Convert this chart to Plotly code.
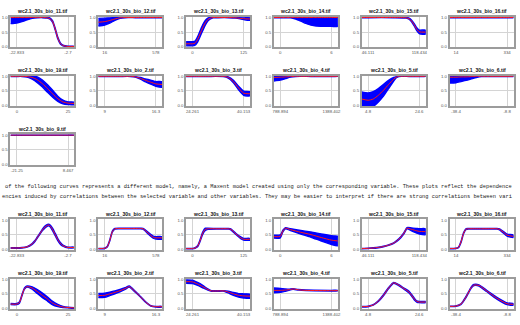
import plotly.graph_objects as go

# ---------------- variables: label, min, max, tick texts ----------------
var_bio11 = ["wc2.1_30s_bio_11.tif", -22.833, -2.7, "-22.833", "-2.7"]
var_bio12 = ["wc2.1_30s_bio_12.tif", 16, 578, "16", "578"]
var_bio13 = ["wc2.1_30s_bio_13.tif", 0, 125, "0", "125"]
var_bio14 = ["wc2.1_30s_bio_14.tif", 0, 6, "0", "6"]
var_bio15 = ["wc2.1_30s_bio_15.tif", 46.111, 118.434, "46.111", "118.434"]
var_bio16 = ["wc2.1_30s_bio_16.tif", 14, 334, "14", "334"]
var_bio19 = ["wc2.1_30s_bio_19.tif", 0, 25, "0", "25"]
var_bio2 = ["wc2.1_30s_bio_2.tif", 9, 16.3, "9", "16.3"]
var_bio3 = ["wc2.1_30s_bio_3.tif", 24.261, 40.153, "24.261", "40.153"]
var_bio4 = ["wc2.1_30s_bio_4.tif", 788.894, 1388.402, "788.894", "1388.402"]
var_bio5 = ["wc2.1_30s_bio_5.tif", 4.8, 24.6, "4.8", "24.6"]
var_bio6 = ["wc2.1_30s_bio_6.tif", -38.4, -8.8, "-38.4", "-8.8"]
var_bio9 = ["wc2.1_30s_bio_9.tif", -21.25, 8.467, "-21.25", "8.467"]

# positions along each variable's range (0 = min, 1 = max), mean response, std dev
# ---- marginal response curves (top) ----
m_bio11_f = [-0.125, 0, 0.1, 0.2, 0.3, 0.4, 0.5, 0.6, 0.65, 0.7, 0.75, 0.8, 0.85, 0.9, 1.0, 1.125]
m_bio11_mean = [1, 1, 1, 1, 1, 1, 1, 0.99, 0.96, 0.86, 0.6, 0.3, 0.11, 0.04, 0.01, 0.01]
m_bio11_sd = [0.21, 0.19, 0.14, 0.08, 0.03, 0.01, 0.005, 0.01, 0.02, 0.03, 0.03, 0.03, 0.02, 0.01, 0.005, 0.005]

m_bio12_f = [-0.125, 0, 0.1, 0.2, 0.3, 0.4, 0.6, 1.0, 1.125]
m_bio12_mean = [0.84, 0.86, 0.9, 0.95, 0.99, 1.0, 1.0, 1.0, 1.0]
m_bio12_sd = [0.13, 0.12, 0.09, 0.05, 0.02, 0.005, 0.005, 0.005, 0.005]

m_bio13_f = [-0.125, 0, 0.05, 0.1, 0.15, 0.2, 0.25, 0.3, 0.35, 0.4, 0.5, 0.7, 0.85, 1.0, 1.125]
m_bio13_mean = [0.1, 0.1, 0.12, 0.25, 0.45, 0.65, 0.82, 0.93, 0.98, 1.0, 1.0, 1.0, 0.99, 0.96, 0.95]
m_bio13_sd = [0.07, 0.07, 0.07, 0.09, 0.1, 0.1, 0.08, 0.05, 0.03, 0.01, 0.005, 0.005, 0.01, 0.03, 0.04]

m_bio14_f = [-0.125, 0, 0.1, 0.2, 0.3, 0.4, 0.5, 0.6, 0.7, 1.0, 1.125]
m_bio14_mean = [1, 1, 1, 1, 1, 1, 1, 1, 1, 1, 1]
m_bio14_sd = [0.005, 0.005, 0.005, 0.01, 0.05, 0.12, 0.2, 0.26, 0.29, 0.3, 0.3]

m_bio15_f = [-0.125, 0, 0.5, 0.75, 0.8, 0.85, 0.9, 0.95, 1.0, 1.125]
m_bio15_mean = [1, 1, 1, 0.99, 0.96, 0.88, 0.75, 0.6, 0.51, 0.5]
m_bio15_sd = [0.005, 0.005, 0.005, 0.01, 0.02, 0.03, 0.04, 0.05, 0.06, 0.07]

m_bio16_f = [-0.125, 0, 0.5, 1.0, 1.125]
m_bio16_mean = [1, 1, 1, 1, 1]
m_bio16_sd = [0.005, 0.005, 0.005, 0.005, 0.005]

m_bio19_f = [-0.125, 0, 0.1, 0.2, 0.3, 0.4, 0.5, 0.6, 0.7, 0.8, 0.9, 1.0, 1.125]
m_bio19_mean = [1, 1, 1, 0.99, 0.96, 0.88, 0.75, 0.58, 0.4, 0.23, 0.12, 0.08, 0.07]
m_bio19_sd = [0.005, 0.005, 0.005, 0.02, 0.06, 0.1, 0.12, 0.13, 0.12, 0.09, 0.06, 0.045, 0.045]

m_bio2_f = [-0.125, 0, 0.3, 0.5, 0.6, 0.7, 0.8, 0.9, 1.0, 1.125]
m_bio2_mean = [1, 1, 1, 1, 0.98, 0.93, 0.86, 0.8, 0.74, 0.72]
m_bio2_sd = [0.005, 0.005, 0.005, 0.005, 0.01, 0.03, 0.05, 0.07, 0.08, 0.09]

m_bio3_f = [-0.125, 0, 0.3, 0.6, 0.7, 0.8, 0.9, 1.0, 1.125]
m_bio3_mean = [1, 1, 1, 1, 0.96, 0.82, 0.6, 0.42, 0.4]
m_bio3_sd = [0.005, 0.005, 0.005, 0.01, 0.02, 0.04, 0.06, 0.07, 0.07]

m_bio4_f = [-0.125, 0, 0.1, 0.2, 0.3, 0.6, 1.125]
m_bio4_mean = [0.96, 0.97, 0.98, 0.99, 1.0, 1.0, 1.0]
m_bio4_sd = [0.12, 0.1, 0.06, 0.02, 0.005, 0.005, 0.005]

m_bio5_f = [-0.125, 0, 0.1, 0.2, 0.3, 0.4, 0.5, 0.55, 0.6, 0.8, 1.125]
m_bio5_mean = [0.22, 0.18, 0.22, 0.35, 0.52, 0.72, 0.9, 0.97, 1.0, 1.0, 1.0]
m_bio5_sd = [0.24, 0.25, 0.25, 0.23, 0.2, 0.14, 0.06, 0.02, 0.005, 0.005, 0.005]

m_bio6_f = [-0.125, 0, 0.1, 0.2, 0.3, 0.4, 0.5, 0.6, 1.125]
m_bio6_mean = [0.97, 0.97, 0.98, 0.98, 0.99, 1.0, 1.0, 1.0, 1.0]
m_bio6_sd = [0.2, 0.19, 0.16, 0.12, 0.08, 0.04, 0.01, 0.005, 0.005]

m_bio9_f = [-0.125, 0, 0.5, 1.0, 1.125]
m_bio9_mean = [1, 1, 1, 1, 1]
m_bio9_sd = [0.005, 0.005, 0.005, 0.005, 0.005]

# ---- single-variable model curves (bottom) ----
s_bio11_f = [-0.125, 0, 0.1, 0.2, 0.3, 0.35, 0.4, 0.45, 0.5, 0.55, 0.6, 0.62, 0.65, 0.7, 0.75, 0.8, 0.85, 0.9, 0.95, 1.0, 1.125]
s_bio11_mean = [0.04, 0.04, 0.05, 0.08, 0.18, 0.27, 0.4, 0.53, 0.66, 0.76, 0.82, 0.83, 0.8, 0.67, 0.5, 0.33, 0.2, 0.12, 0.08, 0.06, 0.06]
s_bio11_sd = [0.01, 0.01, 0.01, 0.01, 0.015, 0.02, 0.02, 0.02, 0.025, 0.03, 0.03, 0.03, 0.03, 0.04, 0.04, 0.035, 0.03, 0.02, 0.015, 0.01, 0.01]

s_bio12_f = [-0.125, 0, 0.05, 0.1, 0.15, 0.2, 0.3, 0.5, 0.7, 0.75, 0.85, 0.95, 1.0, 1.125]
s_bio12_mean = [0.02, 0.03, 0.08, 0.3, 0.6, 0.7, 0.71, 0.71, 0.71, 0.7, 0.55, 0.41, 0.39, 0.39]
s_bio12_sd = [0.005, 0.005, 0.01, 0.02, 0.02, 0.01, 0.01, 0.01, 0.01, 0.015, 0.025, 0.035, 0.04, 0.04]

s_bio13_f = [-0.125, 0, 0.05, 0.1, 0.15, 0.2, 0.25, 0.3, 0.5, 0.7, 0.75, 0.85, 0.95, 1.0, 1.125]
s_bio13_mean = [0.02, 0.02, 0.04, 0.1, 0.3, 0.55, 0.68, 0.7, 0.7, 0.7, 0.68, 0.52, 0.38, 0.34, 0.34]
s_bio13_sd = [0.005, 0.005, 0.01, 0.02, 0.03, 0.04, 0.04, 0.02, 0.01, 0.01, 0.015, 0.02, 0.03, 0.03, 0.03]

s_bio14_f = [-0.125, 0, 0.05, 0.1, 0.2, 0.4, 0.6, 0.8, 1.0, 1.125]
s_bio14_mean = [0.43, 0.44, 0.62, 0.72, 0.67, 0.58, 0.5, 0.4, 0.31, 0.28]
s_bio14_sd = [0.05, 0.05, 0.03, 0.02, 0.03, 0.06, 0.09, 0.12, 0.15, 0.16]

s_bio15_f = [-0.125, 0, 0.1, 0.2, 0.3, 0.4, 0.5, 0.6, 0.7, 0.76, 0.85, 0.95, 1.0, 1.125]
s_bio15_mean = [0.02, 0.03, 0.04, 0.06, 0.09, 0.14, 0.21, 0.34, 0.55, 0.72, 0.68, 0.63, 0.61, 0.6]
s_bio15_sd = [0.005, 0.005, 0.01, 0.01, 0.01, 0.01, 0.01, 0.015, 0.02, 0.02, 0.05, 0.08, 0.09, 0.1]

s_bio16_f = [-0.125, 0, 0.05, 0.1, 0.15, 0.2, 0.25, 0.5, 0.8, 0.85, 0.95, 1.0, 1.125]
s_bio16_mean = [0.02, 0.03, 0.06, 0.25, 0.55, 0.69, 0.7, 0.7, 0.7, 0.68, 0.55, 0.48, 0.44]
s_bio16_sd = [0.005, 0.005, 0.01, 0.02, 0.02, 0.015, 0.01, 0.01, 0.01, 0.015, 0.03, 0.035, 0.04]

s_bio19_f = [-0.125, 0, 0.05, 0.1, 0.15, 0.2, 0.3, 0.4, 0.5, 0.6, 0.7, 0.8, 0.9, 1.0, 1.125]
s_bio19_mean = [0.15, 0.15, 0.2, 0.45, 0.68, 0.75, 0.7, 0.58, 0.45, 0.32, 0.18, 0.1, 0.05, 0.03, 0.02]
s_bio19_sd = [0.02, 0.02, 0.02, 0.02, 0.02, 0.02, 0.04, 0.07, 0.08, 0.07, 0.06, 0.04, 0.02, 0.01, 0.01]

s_bio2_f = [-0.125, 0, 0.1, 0.2, 0.3, 0.4, 0.48, 0.6, 0.7, 0.8, 0.9, 1.0, 1.125]
s_bio2_mean = [0.44, 0.45, 0.5, 0.55, 0.61, 0.68, 0.75, 0.57, 0.4, 0.22, 0.09, 0.06, 0.06]
s_bio2_sd = [0.07, 0.07, 0.06, 0.05, 0.04, 0.03, 0.02, 0.015, 0.01, 0.01, 0.01, 0.01, 0.01]

s_bio3_f = [-0.125, 0, 0.1, 0.2, 0.3, 0.37, 0.5, 0.62, 0.7, 0.8, 0.9, 1.0, 1.125]
s_bio3_mean = [0.92, 0.91, 0.84, 0.75, 0.65, 0.6, 0.6, 0.6, 0.56, 0.5, 0.45, 0.43, 0.42]
s_bio3_sd = [0.06, 0.06, 0.05, 0.04, 0.02, 0.01, 0.01, 0.01, 0.03, 0.05, 0.06, 0.07, 0.07]

s_bio4_f = [-0.125, 0, 0.1, 0.2, 0.25, 0.35, 0.5, 1.0, 1.125]
s_bio4_mean = [0.62, 0.62, 0.63, 0.65, 0.67, 0.64, 0.62, 0.61, 0.61]
s_bio4_sd = [0.08, 0.07, 0.04, 0.015, 0.01, 0.01, 0.01, 0.01, 0.01]

s_bio5_f = [-0.125, 0, 0.1, 0.2, 0.3, 0.4, 0.5, 0.6, 0.7, 0.8, 0.85, 0.9, 0.95, 1.0, 1.125]
s_bio5_mean = [0.06, 0.07, 0.12, 0.25, 0.45, 0.7, 0.88, 0.8, 0.68, 0.56, 0.45, 0.33, 0.24, 0.22, 0.22]
s_bio5_sd = [0.01, 0.01, 0.01, 0.015, 0.02, 0.02, 0.015, 0.015, 0.02, 0.03, 0.03, 0.03, 0.02, 0.02, 0.02]

s_bio6_f = [-0.125, 0, 0.1, 0.2, 0.3, 0.35, 0.45, 0.6, 0.8, 1.0, 1.125]
s_bio6_mean = [0.07, 0.08, 0.15, 0.4, 0.72, 0.8, 0.79, 0.6, 0.35, 0.16, 0.14]
s_bio6_sd = [0.005, 0.01, 0.01, 0.02, 0.02, 0.02, 0.02, 0.02, 0.03, 0.03, 0.03]

# paragraph text (visible part of the report page)
para_line1 = ("of the following curves represents a different model, namely, a Maxent model created using only the "
              "corresponding variable. These plots reflect the dependence")
para_line2 = ("encies induced by correlations between the selected variable and other variables. They may be easier to "
              "interpret if there are strong correlations between vari")

# ---------------- layout of panels ----------------
panels = [
    # (variable, f, mean, sd, column, row)
    (var_bio11, m_bio11_f, m_bio11_mean, m_bio11_sd, 0, 0),
    (var_bio12, m_bio12_f, m_bio12_mean, m_bio12_sd, 1, 0),
    (var_bio13, m_bio13_f, m_bio13_mean, m_bio13_sd, 2, 0),
    (var_bio14, m_bio14_f, m_bio14_mean, m_bio14_sd, 3, 0),
    (var_bio15, m_bio15_f, m_bio15_mean, m_bio15_sd, 4, 0),
    (var_bio16, m_bio16_f, m_bio16_mean, m_bio16_sd, 5, 0),
    (var_bio19, m_bio19_f, m_bio19_mean, m_bio19_sd, 0, 1),
    (var_bio2, m_bio2_f, m_bio2_mean, m_bio2_sd, 1, 1),
    (var_bio3, m_bio3_f, m_bio3_mean, m_bio3_sd, 2, 1),
    (var_bio4, m_bio4_f, m_bio4_mean, m_bio4_sd, 3, 1),
    (var_bio5, m_bio5_f, m_bio5_mean, m_bio5_sd, 4, 1),
    (var_bio6, m_bio6_f, m_bio6_mean, m_bio6_sd, 5, 1),
    (var_bio9, m_bio9_f, m_bio9_mean, m_bio9_sd, 0, 2),
    (var_bio11, s_bio11_f, s_bio11_mean, s_bio11_sd, 0, 3),
    (var_bio12, s_bio12_f, s_bio12_mean, s_bio12_sd, 1, 3),
    (var_bio13, s_bio13_f, s_bio13_mean, s_bio13_sd, 2, 3),
    (var_bio14, s_bio14_f, s_bio14_mean, s_bio14_sd, 3, 3),
    (var_bio15, s_bio15_f, s_bio15_mean, s_bio15_sd, 4, 3),
    (var_bio16, s_bio16_f, s_bio16_mean, s_bio16_sd, 5, 3),
    (var_bio19, s_bio19_f, s_bio19_mean, s_bio19_sd, 0, 4),
    (var_bio2, s_bio2_f, s_bio2_mean, s_bio2_sd, 1, 4),
    (var_bio3, s_bio3_f, s_bio3_mean, s_bio3_sd, 2, 4),
    (var_bio4, s_bio4_f, s_bio4_mean, s_bio4_sd, 3, 4),
    (var_bio5, s_bio5_f, s_bio5_mean, s_bio5_sd, 4, 4),
    (var_bio6, s_bio6_f, s_bio6_mean, s_bio6_sd, 5, 4),
]

W, H = 520, 325
COL_LEFT, COL_STEP, BOX_W = 9.5, 88.5, 64.5
ROW_TOPS = [15, 74.5, 134, 220, 280]
BOX_H = 31
PAD = 0.125

fig = go.Figure()
layout = dict(
    width=W, height=H, margin=dict(l=0, r=0, t=0, b=0, pad=0),
    paper_bgcolor="white", plot_bgcolor="white", showlegend=False,
    font=dict(family="Liberation Sans, Arial, sans-serif", size=4.5, color="#555555"),
)
annotations = []

for i, (var, f, mean, sd, col, row) in enumerate(panels):
    n = i + 1
    label, vmin, vmax, tmin, tmax = var
    span = vmax - vmin
    x = [vmin + p * span for p in f]
    upper = [m + s for m, s in zip(mean, sd)]
    lower = [m - s for m, s in zip(mean, sd)]
    xref = "x" if n == 1 else f"x{n}"
    yref = "y" if n == 1 else f"y{n}"

    fig.add_trace(go.Scatter(
        x=x + x[::-1], y=upper + lower[::-1], xaxis=xref, yaxis=yref,
        mode="lines", fill="toself", fillcolor="#0000ff",
        line=dict(color="#0000ff", width=1.4, shape="spline", smoothing=0.6),
        hoverinfo="skip"))
    fig.add_trace(go.Scatter(
        x=x, y=mean, xaxis=xref, yaxis=yref, mode="lines",
        line=dict(color="#ff1a1a", width=1, shape="spline", smoothing=0.6),
        hoverinfo="skip"))

    left = COL_LEFT + col * COL_STEP
    top = ROW_TOPS[row]
    xd = [left / W, min((left + BOX_W) / W, 1.0)]
    yd = [1 - (top + BOX_H) / H, 1 - top / H]
    axname = "xaxis" if n == 1 else f"xaxis{n}"
    ayname = "yaxis" if n == 1 else f"yaxis{n}"
    layout[axname] = dict(
        domain=xd, anchor=yref, range=[vmin - PAD * span, vmax + PAD * span],
        tickvals=[vmin, vmax], ticktext=[tmin, tmax], ticks="",
        showgrid=True, gridcolor="#d4d4d4", gridwidth=1, zeroline=False,
        showline=True, mirror=True, linecolor="#9c9c9c", linewidth=1.6,
        tickfont=dict(size=4.3, color="#555555"), fixedrange=True)
    layout[ayname] = dict(
        domain=yd, anchor=xref, range=[-0.025, 1.025],
        tickvals=[0, 0.5, 1], ticktext=["0.0", "0.5", "1.0"], ticks="",
        showgrid=True, gridcolor="#d4d4d4", gridwidth=1, zeroline=False,
        showline=True, mirror=True, linecolor="#9c9c9c", linewidth=1.6,
        tickfont=dict(size=4.3, color="#555555"), fixedrange=True)
    annotations.append(dict(
        text="<b>" + label + "</b>", xref="paper", yref="paper",
        x=(left + BOX_W / 2) / W, y=1 - (top - 1.5) / H, xanchor="center", yanchor="bottom",
        showarrow=False, font=dict(family="Liberation Sans, Arial, sans-serif", size=5, color="#111111"),
        borderpad=0))

annotations.append(dict(
    text=para_line1, xref="paper", yref="paper", x=3 / W, y=1 - 187 / H,
    xanchor="left", yanchor="middle", showarrow=False, borderpad=0,
    font=dict(family="Liberation Mono, DejaVu Sans Mono, monospace", size=5.35, color="#222222")))
annotations.append(dict(
    text=para_line2, xref="paper", yref="paper", x=0, y=1 - 197 / H,
    xanchor="left", yanchor="middle", showarrow=False, borderpad=0,
    font=dict(family="Liberation Mono, DejaVu Sans Mono, monospace", size=5.35, color="#222222")))

layout["annotations"] = annotations
fig.update_layout(**layout)
fig.write_html("out.html", config={"displayModeBar": False})
